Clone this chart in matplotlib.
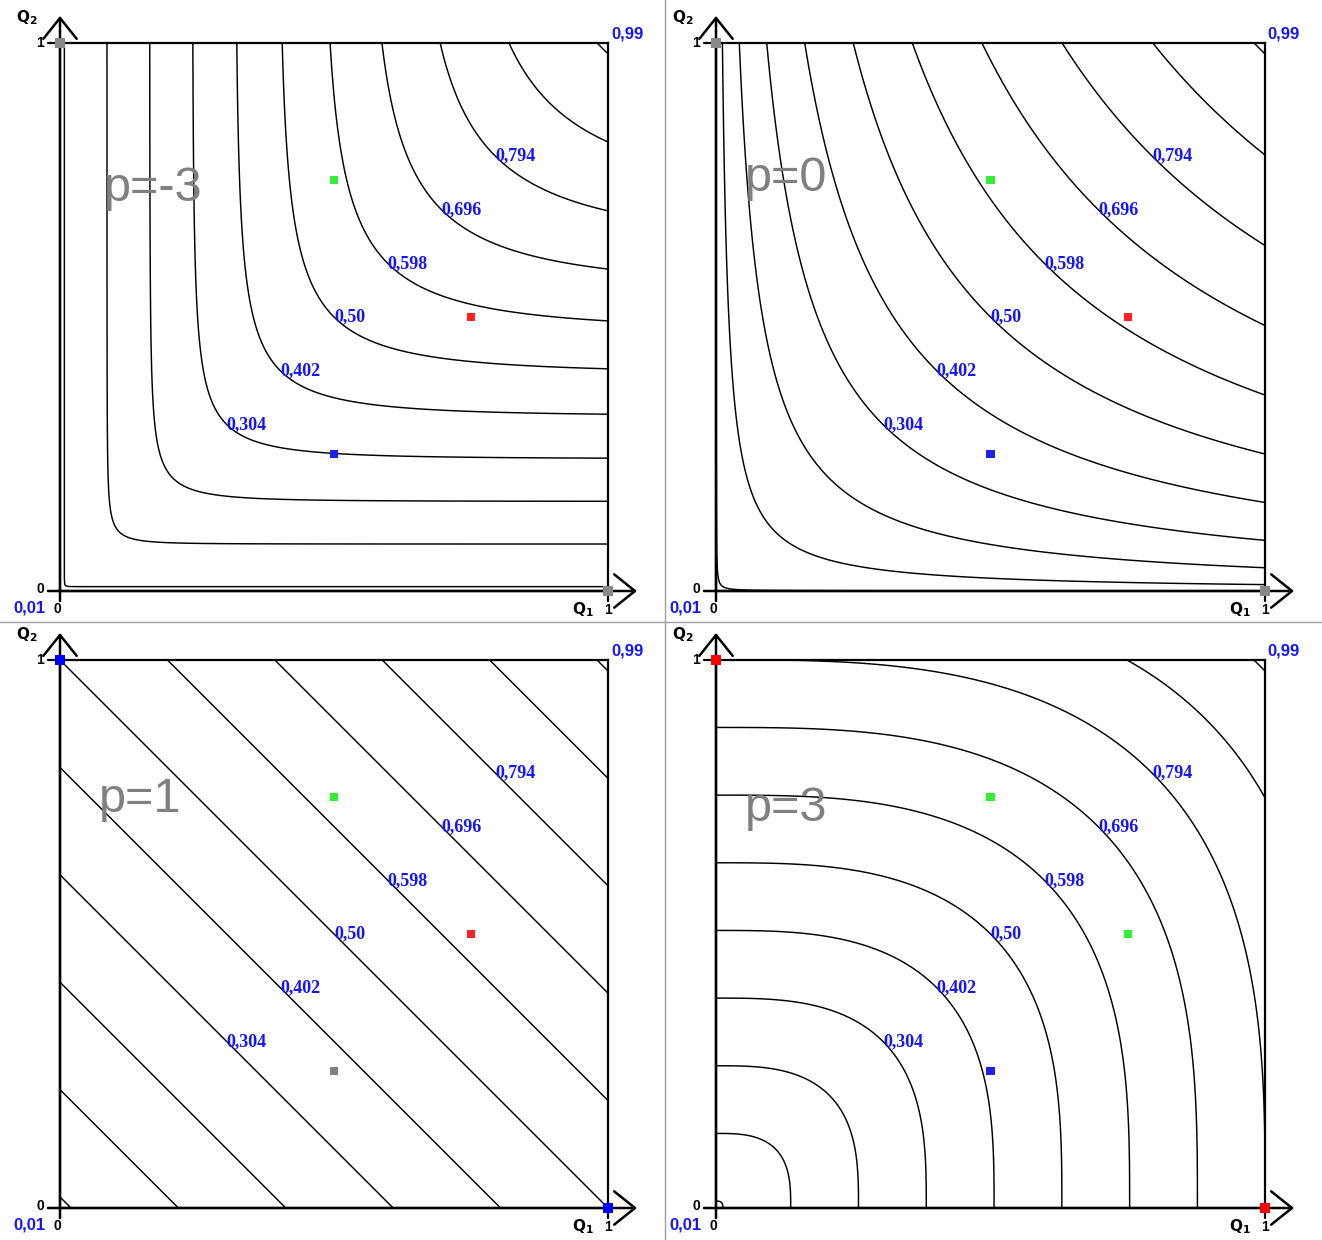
import numpy as np
import matplotlib.pyplot as plt
from matplotlib.lines import Line2D

W, H = 1322, 1240

# power-mean exponents and the panel captions
p_values = [-3, 0, 1, 3]
panel_titles = ['p=-3', 'p=0', 'p=1', 'p=3']

# contour levels of M_p(Q1, Q2) and the labelled ones
levels = [0.01, 0.108, 0.206, 0.304, 0.402, 0.50, 0.598, 0.696, 0.794, 0.892, 0.99]
label_levels = [0.304, 0.402, 0.50, 0.598, 0.696, 0.794]
label_texts = ['0,304', '0,402', '0,50', '0,598', '0,696', '0,794']

# three marked points inside every panel
point_q1 = [0.5, 0.75, 0.5]
point_q2 = [0.75, 0.5, 0.25]
point_colors = [
    ['#33ee33', '#ff2020', '#2020ee'],
    ['#33ee33', '#ff2020', '#2020ee'],
    ['#33ee33', '#ff2020', '#808080'],
    ['#33ee33', '#33ee33', '#2020ee'],
]
# two corner points, (0,1) and (1,0)
corner_q1 = [0, 1]
corner_q2 = [1, 0]
corner_colors = ['#888888', '#888888', '#0000ff', '#ff0000']

# panel boxes in pixels: left, top, width, height
boxes = [(60, 43, 548, 548), (716, 43, 549, 548),
         (60, 660, 548, 548), (716, 660, 549, 548)]
title_xy = [(0.080, 0.735), (0.052, 0.752), (0.071, 0.745), (0.052, 0.729)]


def power_mean(a, b, p):
    if p == 0:
        return np.sqrt(a * b)
    return ((a ** p + b ** p) / 2) ** (1.0 / p)


def px_text(ax, anchor, dx, dy, s, **kw):
    # dx, dy in pixels (dy upwards) from an axes-fraction anchor
    ax.annotate(s, xy=anchor, xycoords='axes fraction',
                xytext=(dx * 0.72, dy * 0.72), textcoords='offset points',
                ha='center', va='center', annotation_clip=False, **kw)


def px_line(ax, x0, y0, x1, y1):
    ax.annotate('', xy=(x1, y1), xytext=(x0, y0), xycoords='axes fraction',
                arrowprops=dict(arrowstyle='-', lw=1.6, color='black',
                                shrinkA=0, shrinkB=0), annotation_clip=False)


fig = plt.figure(figsize=(W / 100, H / 100), dpi=100)

q = np.linspace(1e-4, 1, 800)
Q1, Q2 = np.meshgrid(q, q)
arrow = '->,head_length=0.75,head_width=0.6'

for i, p in enumerate(p_values):
    l, t, w, h = boxes[i]
    ax = fig.add_axes([l / W, 1 - (t + h) / H, w / W, h / H])
    Z = power_mean(Q1, Q2, p)
    ax.contour(Q1, Q2, Z, levels=levels, colors='black', linewidths=1.05)
    ax.set_xlim(0, 1)
    ax.set_ylim(0, 1)
    ax.set_xticks([])
    ax.set_yticks([])
    for sp in ax.spines.values():
        sp.set_linewidth(1.6)

    for c, txt in zip(label_levels, label_texts):
        ax.text(c, c, txt, ha='left', va='center', color='#1414ff',
                fontsize=13, family='Liberation Serif', fontweight='bold')

    ax.text(title_xy[i][0], title_xy[i][1], panel_titles[i], ha='left', va='center',
            color='#808080', fontsize=35, family='Liberation Sans')

    ax.scatter(point_q1, point_q2, c=point_colors[i], marker='s', s=36,
               linewidths=0, zorder=5)
    ax.scatter(corner_q1, corner_q2, c=corner_colors[i], marker='s', s=46,
               linewidths=0, zorder=6, clip_on=False)

    # axes with arrows
    ax.annotate('', xy=(0, 1 + 27 / h), xytext=(0, -10 / h), xycoords='axes fraction',
                arrowprops=dict(arrowstyle=arrow, lw=1.8, color='black',
                                shrinkA=0, shrinkB=0, mutation_scale=20),
                annotation_clip=False)
    ax.annotate('', xy=(1 + 29 / w, 0), xytext=(-12 / w, 0), xycoords='axes fraction',
                arrowprops=dict(arrowstyle=arrow, lw=1.8, color='black',
                                shrinkA=0, shrinkB=0, mutation_scale=20),
                annotation_clip=False)
    px_line(ax, -12 / w, 1, 0, 1)
    px_line(ax, 1, 0, 1, -10 / h)

    bold = dict(fontweight='bold', family='Liberation Sans', color='black')
    px_text(ax, (0, 1), -33, 25, r'$\mathbf{Q_2}$', fontsize=11)
    px_text(ax, (0, 1), -20, 0, '1', fontsize=10, **bold)
    px_text(ax, (0, 0), -20, 2, '0', fontsize=10, **bold)
    px_text(ax, (0, 0), -3, -18, '0', fontsize=10, **bold)
    px_text(ax, (1, 0), -25, -19, r'$\mathbf{Q_1}$', fontsize=11)
    px_text(ax, (1, 0), 0, -19, '1', fontsize=10, **bold)
    px_text(ax, (0, 0), -31, -17, '0,01', fontsize=12, fontweight='bold',
            family='Liberation Sans', color='#1414ff')
    px_text(ax, (1, 1), 19, 9, '0,99', fontsize=12, fontweight='bold',
            family='Liberation Sans', color='#1414ff')

fig.add_artist(Line2D([665 / W, 665 / W], [0, 1], color='#a0a0a0', lw=1))
fig.add_artist(Line2D([0, 1], [1 - 622 / H, 1 - 622 / H], color='#a0a0a0', lw=1))

fig.savefig('out.png', dpi=100, facecolor='white')
